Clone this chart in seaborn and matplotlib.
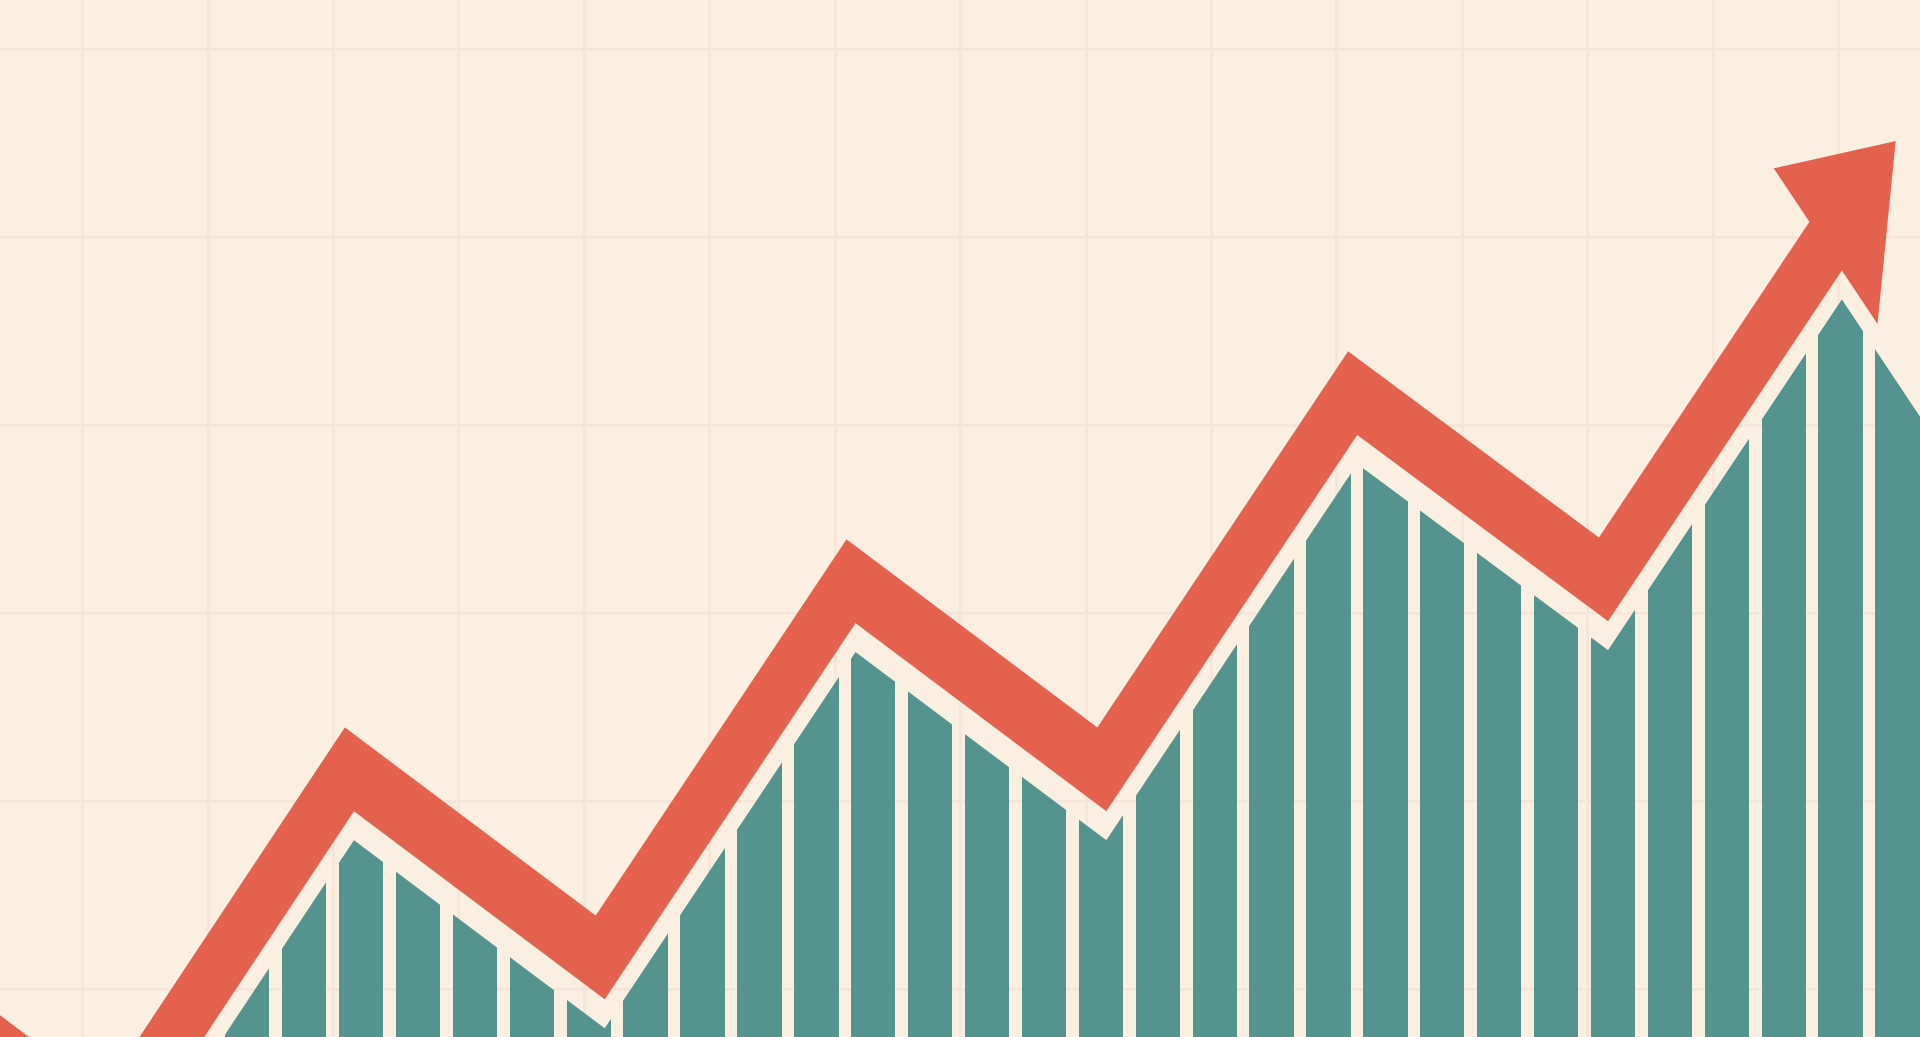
import numpy as np
import pandas as pd
import matplotlib
matplotlib.use("Agg")
import matplotlib.pyplot as plt
from matplotlib.patches import Polygon
import seaborn as sns

# ---- data -------------------------------------------------------------
# bar positions on the time axis (grid columns) and bar values (grid rows)
bar_pos = [1.316, 1.770, 2.224, 2.677, 3.131, 3.585, 4.039, 4.492, 4.946, 5.400,
           5.854, 6.307, 6.761, 7.215, 7.669, 8.122, 8.576, 9.030, 9.484, 9.937,
           10.391, 10.845, 11.299, 11.752, 12.206, 12.660, 13.114, 13.567, 14.021, 14.475]
bar_val = [1.12, 1.58, 1.80, 1.63, 1.41, 1.18, 0.95, 1.30, 1.75, 2.21,
           2.66, 2.80, 2.59, 2.37, 2.14, 1.93, 2.38, 2.84, 3.29, 3.75,
           3.78, 3.55, 3.33, 3.10, 3.02, 3.48, 3.93, 4.39, 4.67, 4.42]

# trend line turning points (the last one is the arrow tip)
trend_x = [-1.80, 0.20, 2.13, 4.13, 6.13, 8.13, 10.13, 12.13, 14.46]
trend_y = [1.23, 0.23, 2.17, 1.17, 3.17, 2.17, 4.17, 3.18, 5.51]

# ---- style ------------------------------------------------------------
BG = "#FBEFE2"
GRID = "#F6E6D9"
TEAL = "#54938E"
RED = "#E4614D"
BAND_HALF = 0.183      # half thickness of the trend band
GAP = 0.154            # vertical cream margin between band and bars
HEAD_LEN = 0.79
HEAD_HALF = 0.585


def offset_path(px, py, d):
    """Miter-joined offset of a polyline; d > 0 shifts to the left side."""
    pts = np.column_stack([px, py]).astype(float)
    seg = np.diff(pts, axis=0)
    seg /= np.linalg.norm(seg, axis=1)[:, None]
    nrm = np.column_stack([-seg[:, 1], seg[:, 0]])
    out = [pts[0] + d * nrm[0]]
    for i in range(1, len(pts) - 1):
        p1 = pts[i] + d * nrm[i - 1]
        p2 = pts[i] + d * nrm[i]
        a, _ = np.linalg.solve(np.column_stack([seg[i - 1], -seg[i]]), p2 - p1)
        out.append(p1 + a * seg[i - 1])
    out.append(pts[-1] + d * nrm[-1])
    return np.array(out)


sns.set_theme(style="white")
fig = plt.figure(figsize=(19.2, 10.37), dpi=100, facecolor=BG)
ax = fig.add_axes([0, 0, 1, 1])
ax.set_facecolor(BG)

df = pd.DataFrame({"period": bar_pos, "value": bar_val})
sns.barplot(data=df, x="period", y="value", native_scale=True, width=0.78,
            color=TEAL, saturation=1, errorbar=None, linewidth=0, ax=ax)
bars = list(ax.patches)

# geometry of the trend arrow
tx = np.array(trend_x, dtype=float)
ty = np.array(trend_y, dtype=float)
tip = np.array([tx[-1], ty[-1]])
d_last = tip - np.array([tx[-2], ty[-2]])
d_last /= np.linalg.norm(d_last)
n_left = np.array([-d_last[1], d_last[0]])
base = tip - HEAD_LEN * d_last
sx = np.append(tx[:-1], base[0])
sy = np.append(ty[:-1], base[1])

# bars are trimmed to stay a fixed margin below the band and the arrow head
ceil = offset_path(sx, sy, -BAND_HALF)
ceil = np.vstack([ceil, ceil[-1] - 6 * n_left])
ceil[:, 1] -= GAP
clip_verts = np.vstack([[-10, -10], [-10, ceil[0][1]], ceil, [30, -10]])
clip = Polygon(clip_verts, closed=True, transform=ax.transData)
for bar in bars:
    bar.set_clip_path(clip)

# band and arrow head as one outline
upper = offset_path(sx, sy, BAND_HALF)
lower = offset_path(sx, sy, -BAND_HALF)
head = np.array([base + HEAD_HALF * n_left, tip, base - HEAD_HALF * n_left])
arrow = np.vstack([upper, head, lower[::-1]])
ax.fill(arrow[:, 0], arrow[:, 1], color=RED, lw=0, zorder=4)

# background grid
ax.set_xlim(-0.656, 14.654)
ax.set_ylim(0.747, 6.26)
ax.set_xticks(range(0, 15))
ax.set_yticks(range(1, 7))
ax.set_axisbelow(True)
ax.grid(True, color=GRID, linewidth=2.0)
ax.tick_params(length=0, labelbottom=False, labelleft=False)
ax.set_xlabel("")
ax.set_ylabel("")
for s in ax.spines.values():
    s.set_visible(False)

fig.savefig("out.png", dpi=100, facecolor=BG)
